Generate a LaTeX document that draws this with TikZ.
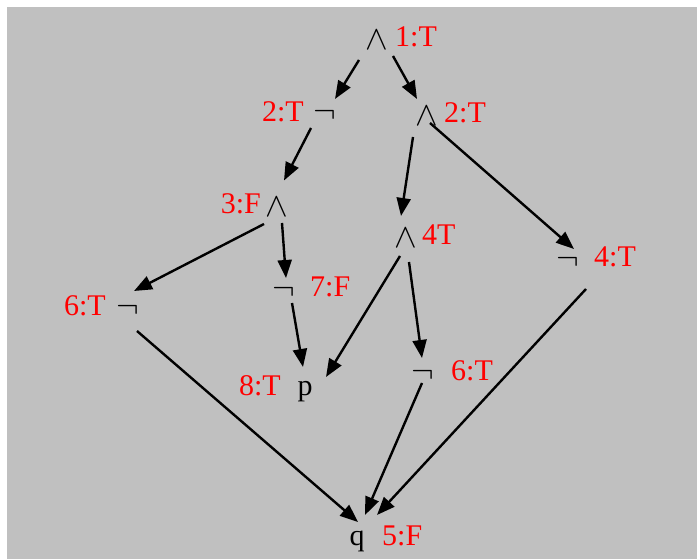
\RequirePackage{fix-cm}
\documentclass[tikz,border=0pt]{standalone}
\usepackage{fontspec}
\setmainfont{Liberation Serif}
\usetikzlibrary{arrows.meta,calc}
\definecolor{panel}{RGB}{192,192,192}
\begin{document}
\begin{tikzpicture}[x=1pt,y=-1pt,
  sym/.style={inner sep=0pt, font=\fontsize{34}{36}\selectfont},
  tag/.style={inner sep=0pt, text=red, font=\fontsize{30}{33}\selectfont},
  arr/.style={-{Triangle[length=18pt,width=14pt]}, line width=2.4pt}]
\useasboundingbox (0,0) rectangle (697,559);
\fill[panel] (7,7) rectangle (697,559);

% operator nodes and their evaluation tags
\node[sym] (a1) at (377,40) {$\wedge$};
\node[tag, anchor=base west] (t1) at (395,47) {1:T};

\node[sym] (a2) at (325,115.5) {$\neg$};
\node[tag, anchor=base east] (t2) at (304,122) {2:T};

\node[sym] (a3) at (427,116.5) {$\wedge$};
\node[tag, anchor=base west] (t3) at (444,123) {2:T};

\node[sym] (a4) at (277,207.5) {$\wedge$};
\node[tag, anchor=base east] (t4) at (261,214) {3:F};

\node[sym] (a5) at (406,238) {$\wedge$};
\node[tag, anchor=base west] (t5) at (422,245) {4T};

\node[sym] (a6) at (568,262) {$\neg$};
\node[tag, anchor=base west] (t6) at (594,267) {4:T};

\node[sym] (a7) at (128,310.5) {$\neg$};
\node[tag, anchor=base east] (t7) at (106,316) {6:T};

\node[sym] (a8) at (284,292) {$\neg$};
\node[tag, anchor=base west] (t8) at (310,297) {7:F};

\node[tag, text=black, anchor=base] (a9) at (305,395) {p};
\node[tag, anchor=base east] (t9) at (281,395) {8:T};

\node[sym] (a10) at (423,375.5) {$\neg$};
\node[tag, anchor=base west] (t10) at (451,380) {6:T};

\node[tag, text=black, anchor=base] (a11) at (357,545) {q};
\node[tag, anchor=base west] (t11) at (382,545) {5:F};

% edges
\draw[arr] ($(a1)+(-18,20)$) -- ($(a2)+(10,-16.5)$);
\draw[arr] ($(a1)+(16,16)$) -- ($(a3)+(-10,-17.5)$);
\draw[arr] ($(a2)+(-14,12.5)$) -- ($(a4)+(7,-27)$);
\draw[arr] ($(a3)+(-14,20.5)$) -- ($(a5)+(-5,-22)$);
\draw[arr] ($(a3)+(3,6.5)$) -- ($(a6)+(6,-13)$);
\draw[arr] ($(a4)+(-13,16.5)$) -- ($(a7)+(6,-19.5)$);
\draw[arr] ($(a4)+(5,15.5)$) -- ($(a8)+(2,-14)$);
\draw[arr] ($(a8)+(8,11)$) -- ($(a9.base)+(-2,-28)$);
\draw[arr] ($(a5)+(-6,18)$) -- ($(a9.base)+(21,-18)$);
\draw[arr] ($(a5)+(3,24)$) -- ($(a10)+(-1,-17.5)$);
\draw[arr] ($(a10)+(-1,7.5)$) -- ($(a11.base)+(8,-30)$);
\draw[arr] ($(a6)+(18,27)$) -- ($(a11.base)+(20,-30)$);
\draw[arr] ($(a7)+(9,20.5)$) -- ($(a11.base)+(1,-23)$);
\end{tikzpicture}
\end{document}
